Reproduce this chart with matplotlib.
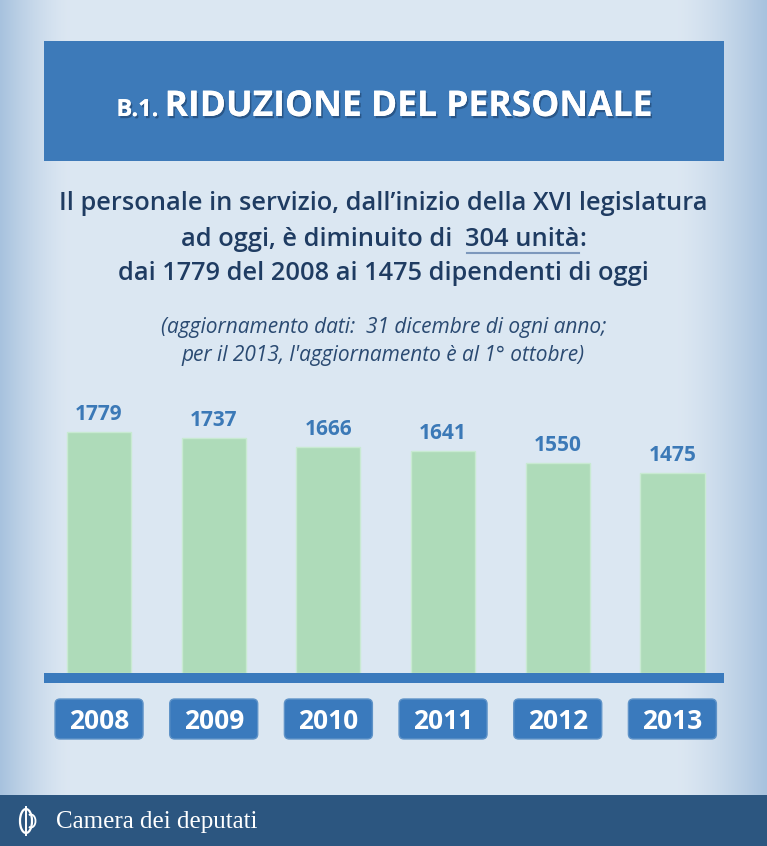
import numpy as np
import matplotlib
matplotlib.use('Agg')
import matplotlib.pyplot as plt
from matplotlib.patches import Rectangle, FancyBboxPatch, Arc
import matplotlib.patheffects as pe

# data
years = ['2008', '2009', '2010', '2011', '2012', '2013']
staff = [1779, 1737, 1666, 1641, 1550, 1475]

title_prefix = 'B.1. '
title_main = 'RIDUZIONE DEL PERSONALE'
sub_line1 = 'Il personale in servizio, dall\u2019inizio della XVI legislatura'
sub_line2 = ['ad oggi, è diminuito di  ', '304 unità', ':']
sub_line3 = 'dai 1779 del 2008 ai 1475 dipendenti di oggi'
note_line1 = '(aggiornamento dati:  31 dicembre di ogni anno;'
note_line2 = "per il 2013, l'aggiornamento è al 1° ottobre)"
footer = 'Camera dei deputati'

W, H = 767, 846
fig = plt.figure(figsize=(W / 100, H / 100), dpi=100)
r = fig.canvas.get_renderer()

deco = fig.add_axes([0, 0, 1, 1], zorder=0)
deco.set_xlim(0, W)
deco.set_ylim(H, 0)
deco.axis('off')

# background with soft blue sides
xs = np.arange(W)[None, :] + 0.5
left = np.clip(1 - xs / 70.0, 0, 1) ** 1.4
right = np.clip(1 - (W - xs) / 90.0, 0, 1) ** 1.4
w = np.maximum(left, right) * np.ones((H, 1))
c0 = np.array([0.862, 0.906, 0.950])
c1 = np.array([0.655, 0.760, 0.870])
bg = c0[None, None, :] + (c1 - c0)[None, None, :] * w[..., None]
deco.imshow(bg, extent=(0, W, H, 0), aspect='auto', zorder=0)

# header band
deco.add_patch(Rectangle((44, 41), 680, 120, fc='#3d7ab9', ec='none', zorder=1))

# footer band
deco.add_patch(Rectangle((0, 795), W, 51, fc='#2c5680', ec='none', zorder=1))


def centred_runs(runs, y, **common):
    texts = []
    for s, kw in runs:
        opts = dict(common)
        opts.update(kw)
        texts.append(fig.text(0, 1 - y / H, s, ha='left', va='baseline', **opts))
    widths = [t.get_window_extent(r).width for t in texts]
    x = (W - sum(widths)) / 2
    for t, wd in zip(texts, widths):
        t.set_x(x / W)
        x += wd
    return texts


shadow = [pe.withSimplePatchShadow(offset=(1.2, -1.6), shadow_rgbFace='#1a3a60', alpha=0.55), pe.Normal()]
centred_runs([(title_prefix, dict(fontsize=17)), (title_main, dict(fontsize=25.5))], 116,
             family='Open Sans', weight='bold', color='white', path_effects=shadow)

sub_kw = dict(family='Open Sans', weight='semibold', fontsize=18.3, color='#1f3c62')
centred_runs([(sub_line1, {})], 210, **sub_kw)
parts = centred_runs([(s, {}) for s in sub_line2], 246, **sub_kw)
centred_runs([(sub_line3, {})], 280, **sub_kw)

# underline under "304 unità"
bb = parts[1].get_window_extent(r)
deco.plot([bb.x0 + 2, bb.x1 - 1], [253, 253], color='#7d98bc', lw=1.5, zorder=2)

note_kw = dict(family='Open Sans', style='italic', fontsize=15, color='#2a4a72')
centred_runs([(note_line1, {})], 333, **note_kw)
centred_runs([(note_line2, {})], 361, **note_kw)

# bars
ax = fig.add_axes([44 / W, 1 - 673 / H, 680 / W, 273 / H], zorder=2)
ax.patch.set_alpha(0)
x = np.arange(len(years))
ax.bar(x, staff, width=0.56, color='#aedbb9', edgecolor='#c8ead2', lw=1)
ax.set_xlim(-0.48, 5.45)
ax.set_ylim(0, 2015)
ax.axis('off')
for i, v in zip(x, staff):
    ax.annotate(str(v), (i, v), xytext=(0, 5), textcoords='offset points',
                ha='center', va='bottom', family='Open Sans', weight='bold',
                fontsize=15, color='#3b79b7')

# axis line
deco.add_patch(Rectangle((44, 673), 680, 10, fc='#3a7abd', ec='none', zorder=2))

# year boxes aligned with bars
inv = deco.transData.inverted()
for i, yr in zip(x, years):
    cx, _ = inv.transform(ax.transData.transform((i, 0)))
    deco.add_patch(FancyBboxPatch((cx - 44, 699), 88, 40, boxstyle='round,pad=0,rounding_size=5',
                                  fc='#3a7abd', ec='#5f93c8', lw=1, zorder=2))
    deco.text(cx, 729, yr, ha='center', va='baseline', family='Open Sans', weight='bold',
              fontsize=19, color='white', zorder=3)

# footer logo and text
deco.add_patch(Arc((26, 821), 12, 24, color='white', lw=1.6, zorder=3))
deco.plot([26, 26], [807, 835], color='white', lw=1.4, zorder=3)
deco.add_patch(Arc((31, 821), 9, 13, theta1=-110, theta2=110, color='white', lw=1.3, zorder=3))
deco.text(56, 822, footer, ha='left', va='center', family='Liberation Serif',
          fontsize=18, color='white', zorder=3)

fig.savefig('out.png', dpi=100)
